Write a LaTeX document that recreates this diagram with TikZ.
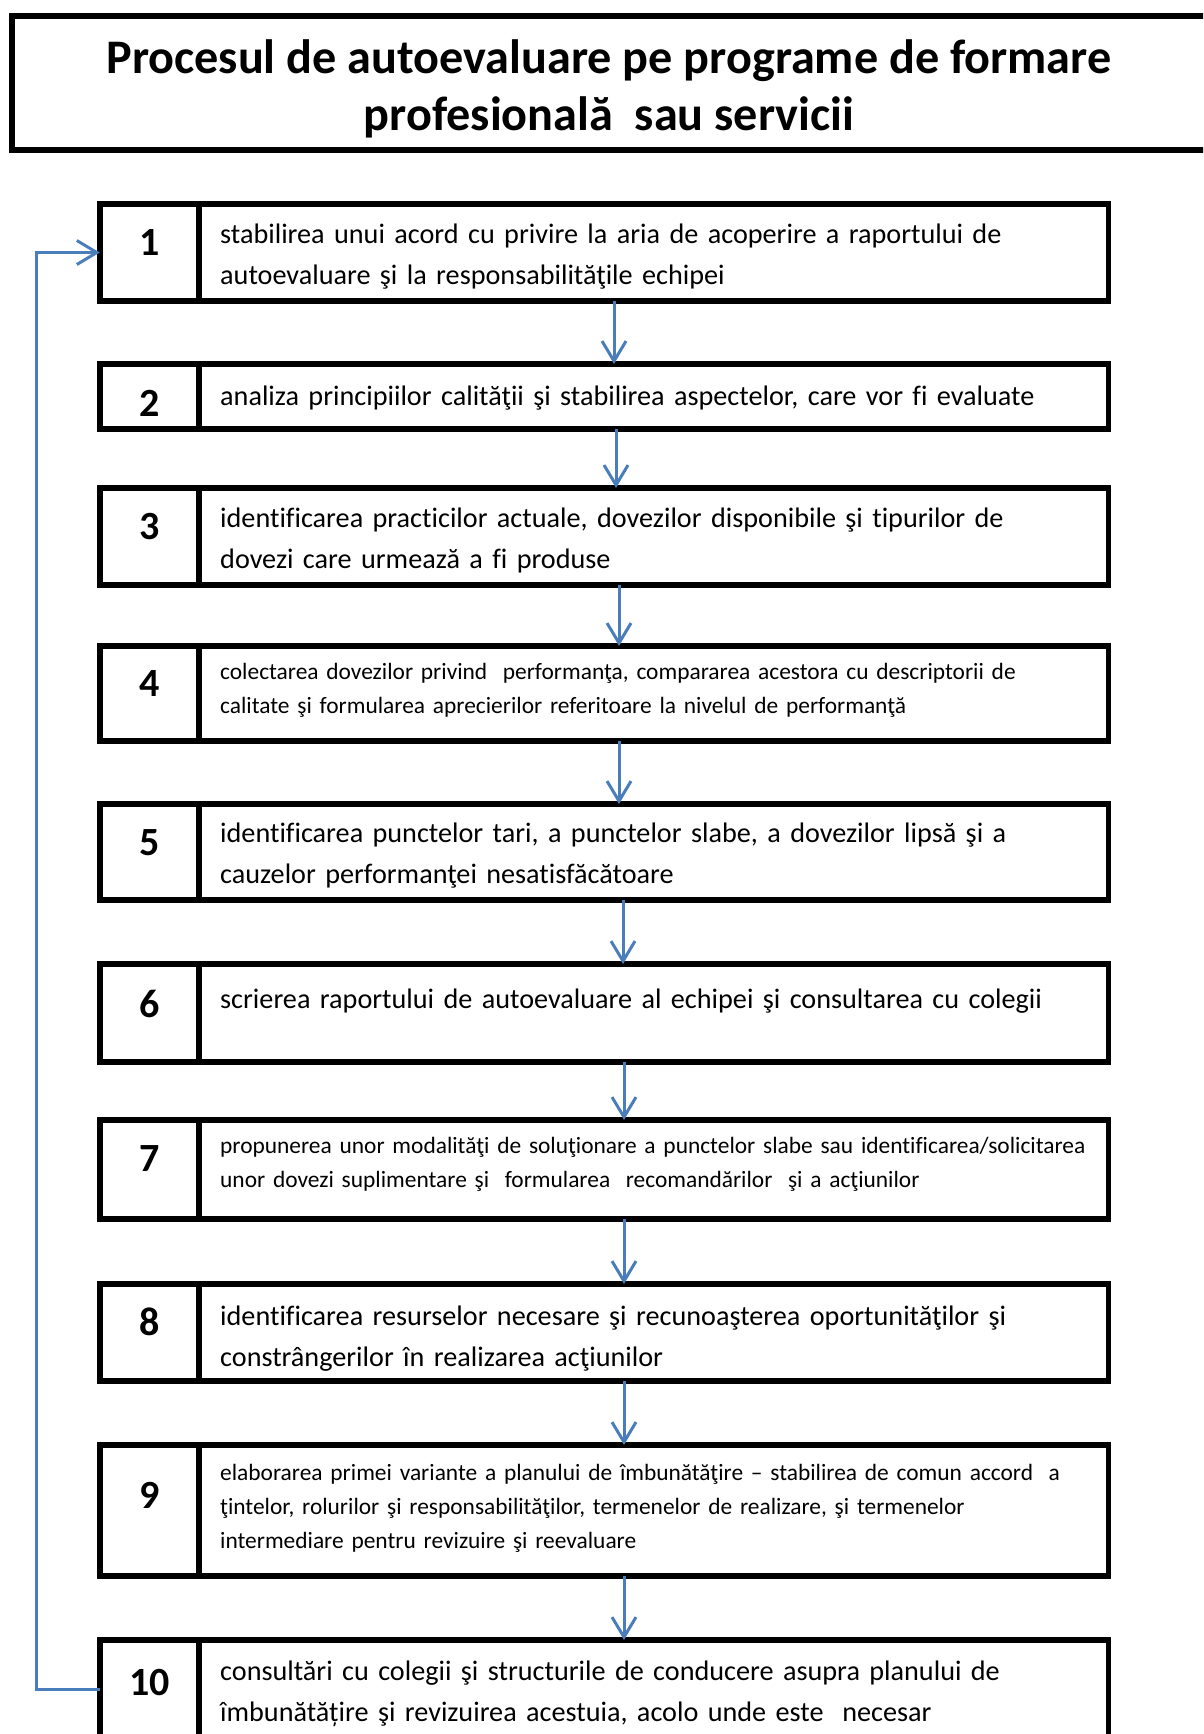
\documentclass[tikz,border=0pt]{standalone}
\usepackage{fontspec}
\setmainfont{Carlito}[Ligatures=NoCommon]
\usetikzlibrary{arrows.meta,calc}

\definecolor{flowblue}{HTML}{4A7EBB}
\newcommand{\titlefont}{\fontsize{48.2}{57}\selectfont\bfseries}
\newcommand{\bodyfont}{\fontsize{28.2}{41}\selectfont}
\newcommand{\smallfont}{\fontsize{23.4}{34}\selectfont}
\newcommand{\numfont}{\fontsize{40}{44}\selectfont\bfseries}

\tikzset{
  cell/.style={draw, line width=5.5pt, inner sep=0pt, outer sep=0pt, anchor=north west},
  numcell/.style={cell, minimum width=99.25pt},
  txtcell/.style={cell, minimum width=909.25pt},
  num/.style={font=\numfont, inner sep=0pt},
  txt/.style={font=\bodyfont, text width=900pt, align=left, anchor=base west, inner sep=0pt},
  smalltxt/.style={txt, font=\smallfont},
  flow/.style={draw=flowblue, line width=3pt, -{Straight Barb[length=20pt,width=24pt]}}
}

\begin{document}
\begin{tikzpicture}[x=1pt,y=1pt]
\clip (0,0) rectangle (1203,-1734);
% title frame
\draw[line width=6pt] (12,-16) rectangle (1230,-150);
\node[font=\titlefont, align=center] (title) at (609,-89) {Procesul de autoevaluare pe programe de formare\\profesională\ \ sau servicii};

% step 1
\node[numcell, minimum height=97pt] (n1) at (99.75,-204) {};
\node[txtcell, minimum height=97pt] (b1) at (n1.north east) {};
\node[num] (l1) at ([yshift=-39pt]n1.north) {1};
\node[txt] (t1) at ([xshift=21pt,yshift=-39pt]b1.north west) {stabilirea unui acord cu privire la aria de acoperire a raportului de\\autoevaluare şi la responsabilităţile echipei};

% step 2
\node[numcell, minimum height=65pt] (n2) at (99.75,-364) {};
\node[txtcell, minimum height=65pt] (b2) at (n2.north east) {};
\node[num] (l2) at ([yshift=-39pt]n2.north) {2};
\node[txt] (t2) at ([xshift=21pt,yshift=-41pt]b2.north west) {analiza principiilor calităţii şi stabilirea aspectelor, care vor fi evaluate};

% step 3
\node[numcell, minimum height=97pt] (n3) at (99.75,-488) {};
\node[txtcell, minimum height=97pt] (b3) at (n3.north east) {};
\node[num] (l3) at ([yshift=-39pt]n3.north) {3};
\node[txt] (t3) at ([xshift=21pt,yshift=-39pt]b3.north west) {identificarea practicilor actuale, dovezilor disponibile şi tipurilor de\\dovezi care urmează a fi produse};

% step 4
\node[numcell, minimum height=95pt] (n4) at (99.75,-646) {};
\node[txtcell, minimum height=95pt] (b4) at (n4.north east) {};
\node[num] (l4) at ([yshift=-38pt]n4.north) {4};
\node[smalltxt] (t4) at ([xshift=21pt,yshift=-33pt]b4.north west) {colectarea dovezilor privind\ \ performanţa, compararea acestora cu descriptorii de\\calitate şi formularea aprecierilor referitoare la nivelul de performanţă};

% step 5
\node[numcell, minimum height=96pt] (n5) at (99.75,-804) {};
\node[txtcell, minimum height=96pt] (b5) at (n5.north east) {};
\node[num] (l5) at ([yshift=-39pt]n5.north) {5};
\node[txt] (t5) at ([xshift=21pt,yshift=-38pt]b5.north west) {identificarea punctelor tari, a punctelor slabe, a dovezilor lipsă şi a\\cauzelor performanţei nesatisfăcătoare};

% step 6
\node[numcell, minimum height=98pt] (n6) at (99.75,-964) {};
\node[txtcell, minimum height=98pt] (b6) at (n6.north east) {};
\node[num] (l6) at ([yshift=-40pt]n6.north) {6};
\node[txt] (t6) at ([xshift=21pt,yshift=-44pt]b6.north west) {scrierea raportului de autoevaluare al echipei şi consultarea cu colegii};

% step 7
\node[numcell, minimum height=99pt] (n7) at (99.75,-1120) {};
\node[txtcell, minimum height=99pt] (b7) at (n7.north east) {};
\node[num] (l7) at ([yshift=-39pt]n7.north) {7};
\node[smalltxt] (t7) at ([xshift=21pt,yshift=-33pt]b7.north west) {propunerea unor modalităţi de soluţionare a punctelor slabe sau identificarea/solicitarea\\unor dovezi suplimentare şi\ \ formularea\ \ recomandărilor\ \ şi a acţiunilor};

% step 8
\node[numcell, minimum height=97pt] (n8) at (99.75,-1284) {};
\node[txtcell, minimum height=97pt] (b8) at (n8.north east) {};
\node[num] (l8) at ([yshift=-38pt]n8.north) {8};
\node[txt] (t8) at ([xshift=21pt,yshift=-41pt]b8.north west) {identificarea resurselor necesare şi recunoaşterea oportunităţilor şi\\constrângerilor în realizarea acţiunilor};

% step 9
\node[numcell, minimum height=131pt] (n9) at (99.75,-1445) {};
\node[txtcell, minimum height=131pt] (b9) at (n9.north east) {};
\node[num] (l9) at ([yshift=-50pt]n9.north) {9};
\node[smalltxt] (t9) at ([xshift=21pt,yshift=-35.5pt]b9.north west) {elaborarea primei variante a planului de îmbunătăţire – stabilirea de comun accord\ \ a\\ţintelor, rolurilor şi responsabilităţilor, termenelor de realizare, şi termenelor\\intermediare pentru revizuire şi reevaluare};

% step 10
\node[numcell, minimum height=98pt] (n10) at (99.75,-1640) {};
\node[txtcell, minimum height=98pt] (b10) at (n10.north east) {};
\node[num] (l10) at ([yshift=-42pt]n10.north) {10};
\node[txt] (t10) at ([xshift=21pt,yshift=-40pt]b10.north west) {consultări cu colegii şi structurile de conducere asupra planului de\\îmbunătățire şi revizuirea acestuia, acolo unde este\ \ necesar};

% arrows between steps
\foreach \a/\b/\x in {1/2/614,2/3/616,3/4/619,4/5/619,5/6/623,6/7/624,7/8/624,8/9/624,9/10/624}{
  \coordinate (c\a) at (\x,0);
  \draw[flow] (b\a.south -| c\a) -- (b\b.north -| c\a);
}

% feedback loop
\coordinate (back) at (36,0);
\draw[flow] (n10.west) -- (n10.west -| back) -- (n1.west -| back) -- (n1.west);
\end{tikzpicture}
\end{document}
